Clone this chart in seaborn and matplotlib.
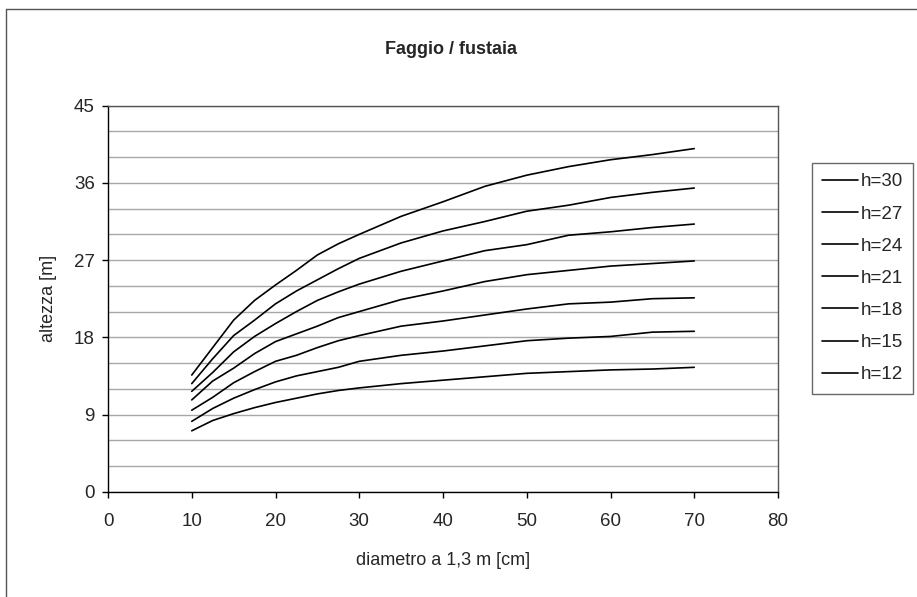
import pandas as pd
import numpy as np
import matplotlib
matplotlib.use("Agg")
import matplotlib.pyplot as plt
from matplotlib.lines import Line2D
import seaborn as sns

# diametro a 1,3 m [cm]
diametro = [10, 12.5, 15, 17.5, 20, 22.5, 25, 27.5, 30, 35, 40, 45, 50, 55, 60, 65, 70]

# altezza [m] per classe di fertilita'
h30 = [13.6, 16.8, 20.0, 22.3, 24.1, 25.8, 27.6, 28.9, 30.0, 32.1, 33.8, 35.6, 36.9, 37.9, 38.7, 39.3, 40.0]
h27 = [12.6, 15.5, 18.2, 20.0, 21.9, 23.4, 24.7, 26.0, 27.2, 29.0, 30.4, 31.5, 32.7, 33.4, 34.3, 34.9, 35.4]
h24 = [11.7, 13.9, 16.3, 18.1, 19.6, 21.0, 22.3, 23.3, 24.2, 25.7, 26.9, 28.1, 28.8, 29.9, 30.3, 30.8, 31.2]
h21 = [10.7, 12.9, 14.4, 16.1, 17.5, 18.4, 19.3, 20.3, 21.0, 22.4, 23.4, 24.5, 25.3, 25.8, 26.3, 26.6, 26.9]
h18 = [9.5, 11.0, 12.7, 14.0, 15.2, 15.9, 16.8, 17.6, 18.2, 19.3, 19.9, 20.6, 21.3, 21.9, 22.1, 22.5, 22.6]
h15 = [8.2, 9.7, 10.9, 11.9, 12.8, 13.5, 14.0, 14.5, 15.2, 15.9, 16.4, 17.0, 17.6, 17.9, 18.1, 18.6, 18.7]
h12 = [7.1, 8.3, 9.1, 9.8, 10.4, 10.9, 11.4, 11.8, 12.1, 12.6, 13.0, 13.4, 13.8, 14.0, 14.2, 14.3, 14.5]

serie = ["h=30", "h=27", "h=24", "h=21", "h=18", "h=15", "h=12"]
valori = [h30, h27, h24, h21, h18, h15, h12]

sns.set_theme(style="white")
plt.rcParams['font.family'] = ['Liberation Sans', 'DejaVu Sans']
FS = 13

# formato long per seaborn
righe = []
for nome, vals in zip(serie, valori):
    for d, h in zip(diametro, vals):
        righe.append({'diametro': d, 'altezza': h, 'serie': nome})
df = pd.DataFrame(righe)

fig = plt.figure(figsize=(9.17, 5.97), dpi=100)
ax = fig.add_axes([108 / 917, 1 - 491.7 / 597, 670 / 917, 386 / 597])

sns.lineplot(data=df, x='diametro', y='altezza', hue='serie', hue_order=serie,
             palette=['black'] * len(serie), linewidth=1.2, ax=ax, legend=False)

ax.set_xlim(0, 80)
ax.set_ylim(0, 45)
ax.set_xticks(np.arange(0, 81, 10))
ax.set_yticks(np.arange(0, 46, 9))
ax.set_yticks(np.arange(0, 46, 3), minor=True)
ax.grid(False)
ax.yaxis.grid(True, which='both', color='#a8a8a8', linewidth=1)
ax.set_axisbelow(True)
ax.tick_params(axis='both', which='major', direction='out', length=4.5, width=1,
               color='black', labelsize=13.5, bottom=True, left=True)
ax.tick_params(axis='x', which='major', pad=11)
ax.tick_params(axis='y', which='major', pad=5)
ax.tick_params(axis='y', which='minor', length=0)

for s in ['left', 'bottom']:
    ax.spines[s].set_color('black')
    ax.spines[s].set_linewidth(1)
for s in ['top', 'right']:
    ax.spines[s].set_color('#555555')
    ax.spines[s].set_linewidth(1)

ax.set_xlabel('diametro a 1,3 m [cm]', fontsize=FS, labelpad=16)
ax.set_ylabel('altezza [m]', fontsize=FS, labelpad=12)

fig.text(451 / 917, 1 - 49 / 597, 'Faggio / fustaia', ha='center', va='center',
         fontsize=FS, fontweight='bold')

# legenda
handles = [Line2D([0], [0], color='black', linewidth=1.2) for _ in serie]
leg = fig.legend(handles, serie, loc='upper left',
                 bbox_to_anchor=(812 / 917, 1 - 163 / 597),
                 fontsize=13.5, frameon=True, fancybox=False, handlelength=1.9,
                 handletextpad=0.15, labelspacing=0.8, borderpad=0.55,
                 borderaxespad=0)
leg.get_frame().set_edgecolor('#444444')
leg.get_frame().set_linewidth(1)

# cornice dell'area grafico
fig.add_artist(Line2D([6 / 917, 1], [1 - 9 / 597, 1 - 9 / 597], color='#555555', linewidth=1))
fig.add_artist(Line2D([6 / 917, 6 / 917], [0, 1 - 9 / 597], color='#555555', linewidth=1))

fig.savefig('out.png', dpi=100)
